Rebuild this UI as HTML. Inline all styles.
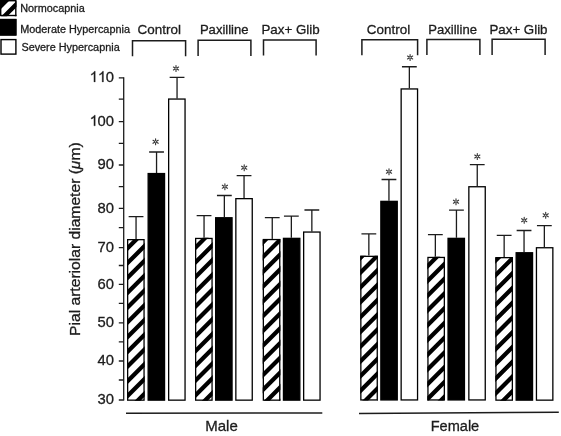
<!DOCTYPE html><html><head><meta charset="utf-8"><style>html,body{margin:0;padding:0;background:#fff;overflow:hidden}svg{display:block;will-change:transform}text{font-family:"Liberation Sans",sans-serif;stroke:#1c1c1c;stroke-width:0.3px}</style></head><body>
<svg width="561" height="436" viewBox="0 0 561 436">
<rect width="561" height="436" fill="#fff"/>
<defs>
</defs>
<rect x="0" y="0" width="16.5" height="16.2" fill="#fff"/>
<clipPath id="c1"><rect x="0" y="0" width="16.5" height="16.2"/></clipPath>
<path clip-path="url(#c1)" d="M-20 -0.45L36.5 -56.95M-20 13.25L36.5 -43.25M-20 26.95L36.5 -29.55M-20 40.65L36.5 -15.85M-20 54.35L36.5 -2.15" stroke="#000" stroke-width="4.31" fill="none"/>
<path d="M0 0H5.5L0 5.5Z" fill="#000"/>
<rect x="0.7" y="0.7" width="15.1" height="14.8" fill="none" stroke="#000" stroke-width="1.4"/>
<rect x="0" y="18.9" width="16.5" height="16.7" fill="#000"/>
<rect x="0.7" y="19.6" width="15.1" height="15.3" fill="none" stroke="#000" stroke-width="1.4"/>
<rect x="0.3" y="38.9" width="16.3" height="15.9" fill="#fff"/>
<rect x="1" y="39.6" width="14.9" height="14.5" fill="none" stroke="#000" stroke-width="1.4"/>
<text x="20.21" y="12.3" font-size="10.85" fill="#1c1c1c">Normocapnia</text>
<text x="20.21" y="32.6" font-size="10.85" fill="#1c1c1c">Moderate Hypercapnia</text>
<text x="21.41" y="50.8" font-size="10.85" fill="#1c1c1c">Severe Hypercapnia</text>
<text x="137.62" y="34.2" font-size="13.45" fill="#1c1c1c">Control</text>
<text x="199.93" y="34.2" font-size="13.05" fill="#1c1c1c">Paxilline</text>
<text x="261.41" y="34.2" font-size="13.35" fill="#1c1c1c">Pax+ Glib</text>
<text x="366.82" y="34.2" font-size="13.45" fill="#1c1c1c">Control</text>
<text x="428.33" y="34.2" font-size="13.05" fill="#1c1c1c">Paxilline</text>
<text x="489.51" y="34.2" font-size="13.3" fill="#1c1c1c">Pax+ Glib</text>
<path d="M132.5 56.2V40.7H185.6V56.2" fill="none" stroke="#1c1c1c" stroke-width="1.5"/>
<path d="M198.1 56.1V40.3H250.9V56.1" fill="none" stroke="#1c1c1c" stroke-width="1.5"/>
<path d="M263.5 55.5V40H316.1V55.5" fill="none" stroke="#1c1c1c" stroke-width="1.5"/>
<path d="M361.9 55.3V39.7H417.6V55.3" fill="none" stroke="#1c1c1c" stroke-width="1.5"/>
<path d="M426.9 54.9V39.6H479.9V54.9" fill="none" stroke="#1c1c1c" stroke-width="1.5"/>
<path d="M492.1 54.9V39.3H545.1V54.9" fill="none" stroke="#1c1c1c" stroke-width="1.5"/>
<path d="M123.7 77.2V400.6" stroke="#1c1c1c" stroke-width="1.3"/>
<path d="M118.8 77.8H123.7M118.8 99.2H123.7M118.8 121.7H123.7M118.8 143.3H123.7M118.8 165H123.7M118.8 186.7H123.7M118.8 208.4H123.7M118.8 227.6H123.7M118.8 247.7H123.7M118.8 265.5H123.7M118.8 284.4H123.7M118.8 303.4H123.7M118.8 322.8H123.7M118.8 341.9H123.7M118.8 361H123.7M118.8 380H123.7M118.8 400H123.7" stroke="#1c1c1c" stroke-width="1.3"/>
<path transform="translate(89.71,81.9) scale(0.007227,-0.007227)" d="M763 0L583 0L583 1147Q518 1085 412 1023Q306 961 222 930L222 1104Q373 1175 486 1276Q599 1377 646 1472L763 1472Z" fill="#1c1c1c" stroke="#1c1c1c" stroke-width="41.51"/>
<path transform="translate(97.94,81.9) scale(0.007227,-0.007227)" d="M763 0L583 0L583 1147Q518 1085 412 1023Q306 961 222 930L222 1104Q373 1175 486 1276Q599 1377 646 1472L763 1472Z" fill="#1c1c1c" stroke="#1c1c1c" stroke-width="41.51"/>
<text x="105.65" y="81.9" font-size="14.8" fill="#1c1c1c">0</text>
<path transform="translate(89.71,125.8) scale(0.007227,-0.007227)" d="M763 0L583 0L583 1147Q518 1085 412 1023Q306 961 222 930L222 1104Q373 1175 486 1276Q599 1377 646 1472L763 1472Z" fill="#1c1c1c" stroke="#1c1c1c" stroke-width="41.51"/>
<text x="97.42" y="125.8" font-size="14.8" fill="#1c1c1c">0</text>
<text x="105.65" y="125.8" font-size="14.8" fill="#1c1c1c">0</text>
<text x="113.88" y="169.1" font-size="14.8" text-anchor="end" fill="#1c1c1c">90</text>
<text x="113.88" y="212.5" font-size="14.8" text-anchor="end" fill="#1c1c1c">80</text>
<text x="113.88" y="251.8" font-size="14.8" text-anchor="end" fill="#1c1c1c">70</text>
<text x="113.88" y="288.5" font-size="14.8" text-anchor="end" fill="#1c1c1c">60</text>
<text x="113.88" y="326.9" font-size="14.8" text-anchor="end" fill="#1c1c1c">50</text>
<text x="113.88" y="365.1" font-size="14.8" text-anchor="end" fill="#1c1c1c">40</text>
<text x="113.88" y="404.1" font-size="14.8" text-anchor="end" fill="#1c1c1c">30</text>
<text transform="translate(79.9,334.7) rotate(-90) scale(1.0574,1)" x="-1.21" y="0" font-size="14.8" fill="#1c1c1c">Pial arteriolar diameter (<tspan font-style="italic">&#956;</tspan>m)</text>
<path d="M136.05 239V216.7M128.65 216.7H143.45" stroke="#1c1c1c" stroke-width="1.3"/>
<rect x="127" y="239" width="17.7" height="161.8" fill="#fff"/>
<clipPath id="c2"><rect x="127" y="239" width="17.7" height="161.8"/></clipPath>
<path clip-path="url(#c2)" d="M107 239.29L164.7 181.59M107 254.06L164.7 196.36M107 268.83L164.7 211.13M107 283.6L164.7 225.9M107 298.37L164.7 240.67M107 313.14L164.7 255.44M107 327.91L164.7 270.21M107 342.68L164.7 284.98M107 357.45L164.7 299.75M107 372.22L164.7 314.52M107 386.99L164.7 329.29M107 401.76L164.7 344.06M107 416.53L164.7 358.83M107 431.3L164.7 373.6M107 446.07L164.7 388.37" stroke="#000" stroke-width="4.24" fill="none"/>
<rect x="127.65" y="239.65" width="16.4" height="160.5" fill="none" stroke="#000" stroke-width="1.3"/>
<path d="M156.55 172.9V152M149.15 152H163.95" stroke="#1c1c1c" stroke-width="1.3"/>
<rect x="148.15" y="173.55" width="16.4" height="226.6" fill="#000" stroke="#000" stroke-width="1.3"/>
<path d="M155.6 142.9L155.6 144.8M156.55 142.35L158.2 143.3M154.65 142.35L153 143.3M155.6 140.7L155.6 138.8M154.65 141.25L153 140.3M156.55 141.25L158.2 140.3" stroke="#333" stroke-width="1.1" stroke-linecap="round" fill="none"/>
<path d="M177.05 98.4V77.4M169.65 77.4H184.45" stroke="#1c1c1c" stroke-width="1.3"/>
<rect x="168.65" y="99.05" width="16.4" height="301.1" fill="#fff" stroke="#000" stroke-width="1.3"/>
<path d="M176 69.6L176 71.5M176.95 69.05L178.6 70M175.05 69.05L173.4 70M176 67.4L176 65.5M175.05 67.95L173.4 67M176.95 67.95L178.6 67" stroke="#333" stroke-width="1.1" stroke-linecap="round" fill="none"/>
<path d="M204.05 237.8V215.6M196.65 215.6H211.45" stroke="#1c1c1c" stroke-width="1.3"/>
<rect x="195" y="237.8" width="17.7" height="163" fill="#fff"/>
<clipPath id="c3"><rect x="195" y="237.8" width="17.7" height="163"/></clipPath>
<path clip-path="url(#c3)" d="M175 238.49L232.7 180.79M175 253.26L232.7 195.56M175 268.03L232.7 210.33M175 282.8L232.7 225.1M175 297.57L232.7 239.87M175 312.34L232.7 254.64M175 327.11L232.7 269.41M175 341.88L232.7 284.18M175 356.65L232.7 298.95M175 371.42L232.7 313.72M175 386.19L232.7 328.49M175 400.96L232.7 343.26M175 415.73L232.7 358.03M175 430.5L232.7 372.8M175 445.27L232.7 387.57" stroke="#000" stroke-width="4.24" fill="none"/>
<rect x="195.65" y="238.45" width="16.4" height="161.7" fill="none" stroke="#000" stroke-width="1.3"/>
<path d="M224.35 217.1V195.5M216.95 195.5H231.75" stroke="#1c1c1c" stroke-width="1.3"/>
<rect x="215.65" y="217.75" width="16.4" height="182.4" fill="#000" stroke="#000" stroke-width="1.3"/>
<path d="M224.9 187.8L224.9 189.7M225.85 187.25L227.5 188.2M223.95 187.25L222.3 188.2M224.9 185.6L224.9 183.7M223.95 186.15L222.3 185.2M225.85 186.15L227.5 185.2" stroke="#333" stroke-width="1.1" stroke-linecap="round" fill="none"/>
<path d="M244.05 198V175.7M236.65 175.7H251.45" stroke="#1c1c1c" stroke-width="1.3"/>
<rect x="235.85" y="198.65" width="16.4" height="201.5" fill="#fff" stroke="#000" stroke-width="1.3"/>
<path d="M244.2 168.8L244.2 170.7M245.15 168.25L246.8 169.2M243.25 168.25L241.6 169.2M244.2 166.6L244.2 164.7M243.25 167.15L241.6 166.2M245.15 167.15L246.8 166.2" stroke="#333" stroke-width="1.1" stroke-linecap="round" fill="none"/>
<path d="M272.25 238.9V217.7M264.85 217.7H279.65" stroke="#1c1c1c" stroke-width="1.3"/>
<rect x="262.7" y="238.9" width="17.7" height="161.9" fill="#fff"/>
<clipPath id="c4"><rect x="262.7" y="238.9" width="17.7" height="161.9"/></clipPath>
<path clip-path="url(#c4)" d="M242.7 232.89L300.4 175.19M242.7 247.66L300.4 189.96M242.7 262.43L300.4 204.73M242.7 277.2L300.4 219.5M242.7 291.97L300.4 234.27M242.7 306.74L300.4 249.04M242.7 321.51L300.4 263.81M242.7 336.28L300.4 278.58M242.7 351.05L300.4 293.35M242.7 365.82L300.4 308.12M242.7 380.59L300.4 322.89M242.7 395.36L300.4 337.66M242.7 410.13L300.4 352.43M242.7 424.9L300.4 367.2M242.7 439.67L300.4 381.97" stroke="#000" stroke-width="4.24" fill="none"/>
<rect x="263.35" y="239.55" width="16.4" height="160.6" fill="none" stroke="#000" stroke-width="1.3"/>
<path d="M291.35 237.7V216.2M283.95 216.2H298.75" stroke="#1c1c1c" stroke-width="1.3"/>
<rect x="283.45" y="238.35" width="16.4" height="161.8" fill="#000" stroke="#000" stroke-width="1.3"/>
<path d="M311.85 231.4V210M304.45 210H319.25" stroke="#1c1c1c" stroke-width="1.3"/>
<rect x="303.65" y="232.05" width="16.4" height="168.1" fill="#fff" stroke="#000" stroke-width="1.3"/>
<path d="M368.85 255.7V233.8M361.45 233.8H376.25" stroke="#1c1c1c" stroke-width="1.3"/>
<rect x="360.2" y="255.7" width="17.7" height="144.9" fill="#fff"/>
<clipPath id="c5"><rect x="360.2" y="255.7" width="17.7" height="144.9"/></clipPath>
<path clip-path="url(#c5)" d="M340.2 248.56L397.9 190.86M340.2 263.33L397.9 205.63M340.2 278.1L397.9 220.4M340.2 292.87L397.9 235.17M340.2 307.64L397.9 249.94M340.2 322.41L397.9 264.71M340.2 337.18L397.9 279.48M340.2 351.95L397.9 294.25M340.2 366.72L397.9 309.02M340.2 381.49L397.9 323.79M340.2 396.26L397.9 338.56M340.2 411.03L397.9 353.33M340.2 425.8L397.9 368.1M340.2 440.57L397.9 382.87" stroke="#000" stroke-width="4.24" fill="none"/>
<rect x="360.85" y="256.35" width="16.4" height="143.6" fill="none" stroke="#000" stroke-width="1.3"/>
<path d="M388.95 200.7V179.5M381.55 179.5H396.35" stroke="#1c1c1c" stroke-width="1.3"/>
<rect x="380.85" y="201.35" width="16.4" height="198.6" fill="#000" stroke="#000" stroke-width="1.3"/>
<path d="M389 172.8L389 174.7M389.95 172.25L391.6 173.2M388.05 172.25L386.4 173.2M389 170.6L389 168.7M388.05 171.15L386.4 170.2M389.95 171.15L391.6 170.2" stroke="#333" stroke-width="1.1" stroke-linecap="round" fill="none"/>
<path d="M409.35 88.3V66.75M401.95 66.75H416.75" stroke="#1c1c1c" stroke-width="1.3"/>
<rect x="401.15" y="88.95" width="16.4" height="311" fill="#fff" stroke="#000" stroke-width="1.3"/>
<path d="M410.1 58.6L410.1 60.5M411.05 58.05L412.7 59M409.15 58.05L407.5 59M410.1 56.4L410.1 54.5M409.15 56.95L407.5 56M411.05 56.95L412.7 56" stroke="#333" stroke-width="1.1" stroke-linecap="round" fill="none"/>
<path d="M435.35 256.8V234.6M427.95 234.6H442.75" stroke="#1c1c1c" stroke-width="1.3"/>
<rect x="427.3" y="256.8" width="17.7" height="143.8" fill="#fff"/>
<clipPath id="c6"><rect x="427.3" y="256.8" width="17.7" height="143.8"/></clipPath>
<path clip-path="url(#c6)" d="M407.3 256.83L465 199.13M407.3 271.6L465 213.9M407.3 286.37L465 228.67M407.3 301.14L465 243.44M407.3 315.91L465 258.21M407.3 330.68L465 272.98M407.3 345.45L465 287.75M407.3 360.22L465 302.52M407.3 374.99L465 317.29M407.3 389.76L465 332.06M407.3 404.53L465 346.83M407.3 419.3L465 361.6M407.3 434.07L465 376.37M407.3 448.84L465 391.14" stroke="#000" stroke-width="4.24" fill="none"/>
<rect x="427.95" y="257.45" width="16.4" height="142.5" fill="none" stroke="#000" stroke-width="1.3"/>
<path d="M456.45 237.7V210.1M449.05 210.1H463.85" stroke="#1c1c1c" stroke-width="1.3"/>
<rect x="448.05" y="238.35" width="16.4" height="161.6" fill="#000" stroke="#000" stroke-width="1.3"/>
<path d="M456 202.8L456 204.7M456.95 202.25L458.6 203.2M455.05 202.25L453.4 203.2M456 200.6L456 198.7M455.05 201.15L453.4 200.2M456.95 201.15L458.6 200.2" stroke="#333" stroke-width="1.1" stroke-linecap="round" fill="none"/>
<path d="M477.25 186.1V164.7M469.85 164.7H484.65" stroke="#1c1c1c" stroke-width="1.3"/>
<rect x="468.85" y="186.75" width="16.4" height="213.2" fill="#fff" stroke="#000" stroke-width="1.3"/>
<path d="M477.3 157.6L477.3 159.5M478.25 157.05L479.9 158M476.35 157.05L474.7 158M477.3 155.4L477.3 153.5M476.35 155.95L474.7 155M478.25 155.95L479.9 155" stroke="#333" stroke-width="1.1" stroke-linecap="round" fill="none"/>
<path d="M504.15 257V235.3M496.75 235.3H511.55" stroke="#1c1c1c" stroke-width="1.3"/>
<rect x="495.3" y="257" width="17.7" height="143.8" fill="#fff"/>
<clipPath id="c7"><rect x="495.3" y="257" width="17.7" height="143.8"/></clipPath>
<path clip-path="url(#c7)" d="M475.3 251.26L533 193.56M475.3 266.03L533 208.33M475.3 280.8L533 223.1M475.3 295.57L533 237.87M475.3 310.34L533 252.64M475.3 325.11L533 267.41M475.3 339.88L533 282.18M475.3 354.65L533 296.95M475.3 369.42L533 311.72M475.3 384.19L533 326.49M475.3 398.96L533 341.26M475.3 413.73L533 356.03M475.3 428.5L533 370.8M475.3 443.27L533 385.57" stroke="#000" stroke-width="4.24" fill="none"/>
<rect x="495.95" y="257.65" width="16.4" height="142.5" fill="none" stroke="#000" stroke-width="1.3"/>
<path d="M524.05 252.1V230.5M516.65 230.5H531.45" stroke="#1c1c1c" stroke-width="1.3"/>
<rect x="516.15" y="252.75" width="16.4" height="147.4" fill="#000" stroke="#000" stroke-width="1.3"/>
<path d="M524.2 221.3L524.2 223.2M525.15 220.75L526.8 221.7M523.25 220.75L521.6 221.7M524.2 219.1L524.2 217.2M523.25 219.65L521.6 218.7M525.15 219.65L526.8 218.7" stroke="#333" stroke-width="1.1" stroke-linecap="round" fill="none"/>
<path d="M544.35 247.1V225.6M536.95 225.6H551.75" stroke="#1c1c1c" stroke-width="1.3"/>
<rect x="536.45" y="247.75" width="16.4" height="152.4" fill="#fff" stroke="#000" stroke-width="1.3"/>
<path d="M545.7 216.4L545.7 218.3M546.65 215.85L548.3 216.8M544.75 215.85L543.1 216.8M545.7 214.2L545.7 212.3M544.75 214.75L543.1 213.8M546.65 214.75L548.3 213.8" stroke="#333" stroke-width="1.1" stroke-linecap="round" fill="none"/>
<path d="M126 413.2L322.3 413" stroke="#1c1c1c" stroke-width="1.5"/>
<path d="M359 413.4L558.8 412.3" stroke="#1c1c1c" stroke-width="1.5"/>
<text x="205.27" y="431.2" font-size="15" fill="#1c1c1c">Male</text>
<text x="430.71" y="431.2" font-size="14.55" fill="#1c1c1c">Female</text>
</svg></body></html>
